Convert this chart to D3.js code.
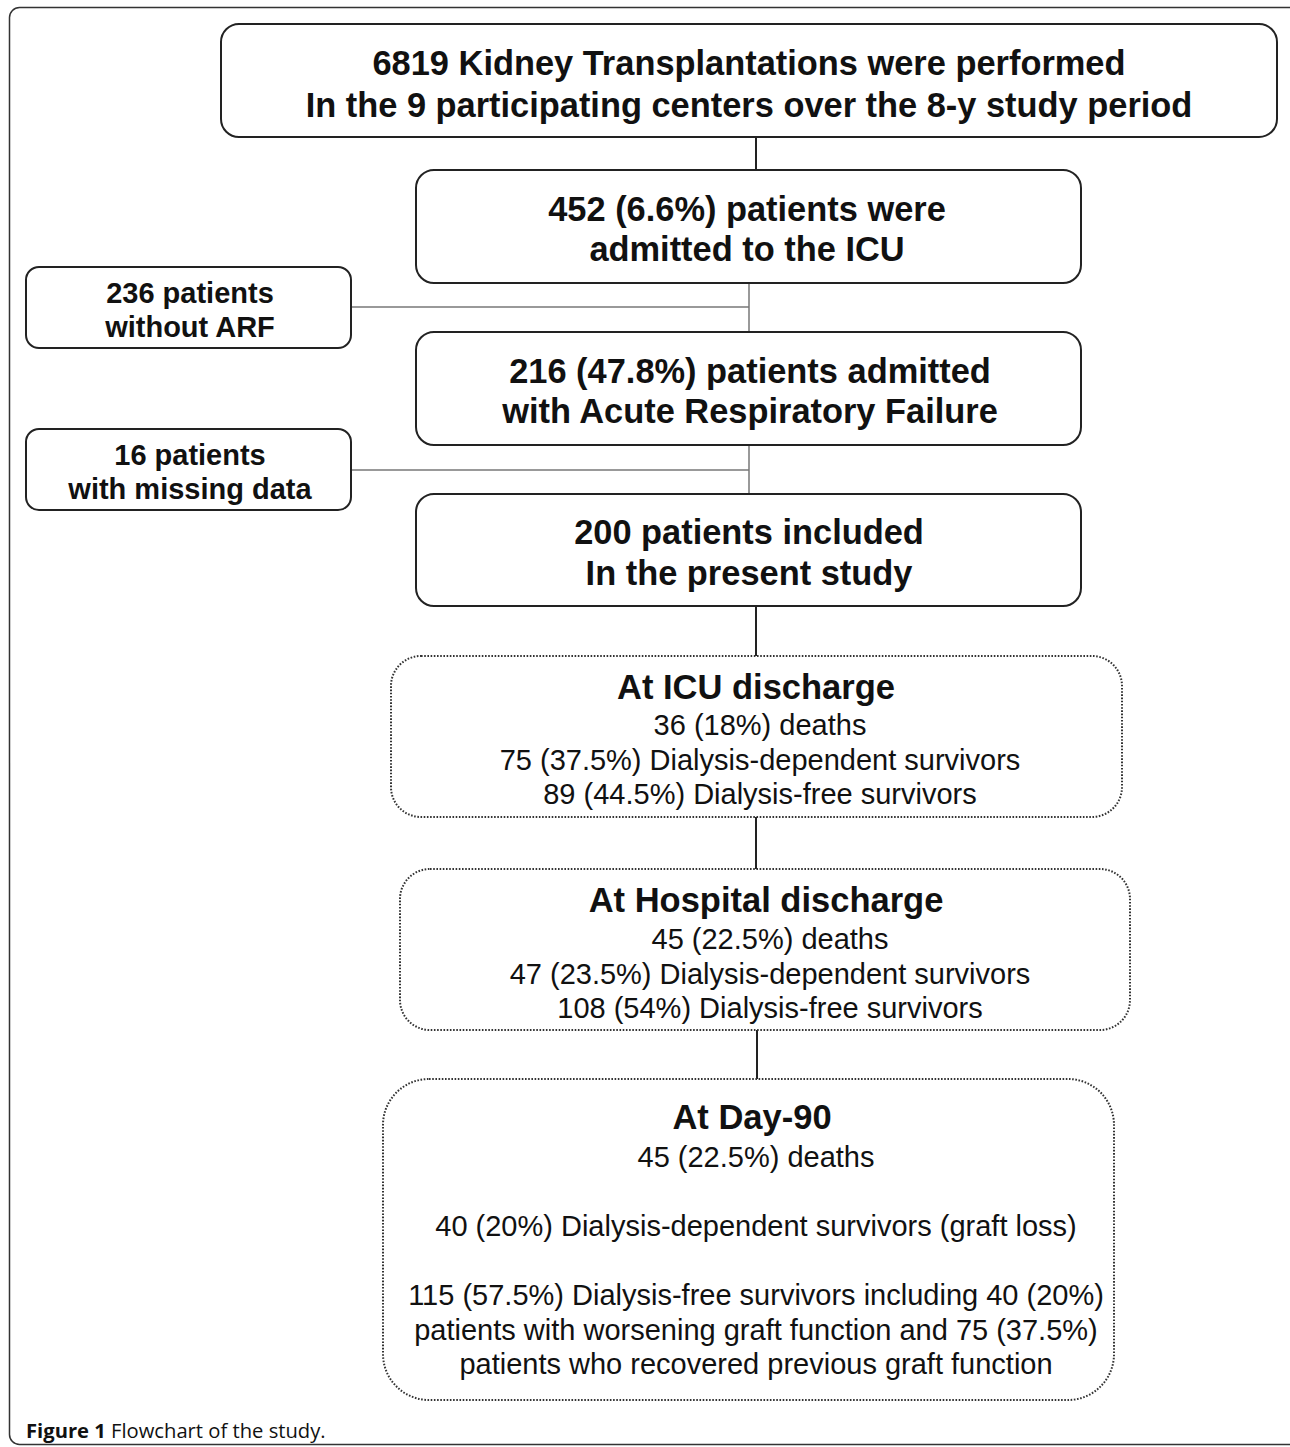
<!DOCTYPE html>
<html>
<head>
<meta charset="utf-8">
<script src="https://cdn.jsdelivr.net/npm/d3@7"></script>
<style>
  body { margin: 0; background: #fff; }
  svg { display: block; }
  .flow { font-family: "Liberation Sans", Arimo, Arial, sans-serif; }
  .cap { font-family: "Open Sans", Lato, sans-serif; }
</style>
</head>
<body>
<div id="chart"></div>
<script>
// Text of each box, top to bottom
const mainBoxes = [
    ["6819 Kidney Transplantations were performed", "In the 9 participating centers over the 8-y study period"],
    ["452 (6.6%) patients were", "admitted to the ICU"],
    ["216 (47.8%) patients admitted", "with Acute Respiratory Failure"],
    ["200 patients included", "In the present study"]
];
const excludedBoxes = [
    ["236 patients", "without ARF"],
    ["16 patients", "with missing data"]
];
const outcomeTitles = ["At ICU discharge", "At Hospital discharge", "At Day-90"];
const outcomeLines = [
    ["36 (18%) deaths", "75 (37.5%) Dialysis-dependent survivors", "89 (44.5%) Dialysis-free survivors"],
    ["45 (22.5%) deaths", "47 (23.5%) Dialysis-dependent survivors", "108 (54%) Dialysis-free survivors"],
    ["45 (22.5%) deaths", "", "40 (20%) Dialysis-dependent survivors (graft loss)", "",
     "115 (57.5%) Dialysis-free survivors including 40 (20%)",
     "patients with worsening graft function and 75 (37.5%)",
     "patients who recovered previous graft function"]
];
const caption = ["Figure 1", " Flowchart of the study."];

// Layout (pixels)
const W = 1290, H = 1447;
const mainLayout = [
    {x: 221, y: 24, w: 1056, h: 113, base: 75, step: 42, cx: 749},
    {x: 416, y: 170, w: 665, h: 113, base: 221, step: 40, cx: 747},
    {x: 416, y: 332, w: 665, h: 113, base: 383, step: 40, cx: 750},
    {x: 416, y: 494, w: 665, h: 112, base: 544, step: 41, cx: 749}
];
const exclLayout = [
    {x: 26, y: 267, w: 325, h: 81, base: 303, step: 34, cx: 190, lineY: 307},
    {x: 26, y: 429, w: 325, h: 81, base: 465, step: 34, cx: 190, lineY: 470}
];
const outLayout = [
    {x: 391, y: 656, w: 731, h: 161, r: 30, title: 699, base: 735, step: 34.5, cx: 760},
    {x: 400, y: 869, w: 730, h: 161, r: 30, title: 912, base: 949, step: 34.5, cx: 770},
    {x: 383, y: 1079, w: 731, h: 321, r: 46, title: 1129, base: 1167, step: 34.5, cx: 756}
];

const svg = d3.select("#chart")
    .append("svg")
    .attr("width", W)
    .attr("height", H);

// outer frame
svg.append("rect")
    .attr("x", 9.5).attr("y", 7.5)
    .attr("width", 1290).attr("height", 1437)
    .attr("rx", 10)
    .attr("fill", "none")
    .attr("stroke", "#333")
    .attr("stroke-width", 1.5);

// connectors
const darkLine = (x, y1, y2) => svg.append("line")
    .attr("x1", x).attr("x2", x).attr("y1", y1).attr("y2", y2)
    .attr("stroke", "#222").attr("stroke-width", 2);

darkLine(756, 137, 170);
darkLine(756, 606, 656);
darkLine(756, 817, 869);
darkLine(757, 1030, 1079);

const grey = svg.append("g").attr("stroke", "#777").attr("stroke-width", 1.5);
grey.append("line").attr("x1", 749).attr("x2", 749).attr("y1", 283).attr("y2", 332);
grey.append("line").attr("x1", 749).attr("x2", 749).attr("y1", 445).attr("y2", 494);
exclLayout.forEach(l => {
    grey.append("line").attr("x1", l.x + l.w).attr("x2", 749).attr("y1", l.lineY).attr("y2", l.lineY);
});

const flow = svg.append("g").attr("class", "flow");

// solid main boxes
mainBoxes.forEach((lines, i) => {
    const l = mainLayout[i];
    flow.append("rect")
        .attr("x", l.x).attr("y", l.y).attr("width", l.w).attr("height", l.h)
        .attr("rx", 18)
        .attr("fill", "#fff").attr("stroke", "#222").attr("stroke-width", 2);
    flow.selectAll(null)
        .data(lines)
        .enter()
        .append("text")
        .attr("x", l.cx)
        .attr("y", (d, j) => l.base + j * l.step)
        .attr("text-anchor", "middle")
        .attr("font-weight", "bold")
        .attr("font-size", 34.4)
        .attr("fill", "#111")
        .text(d => d);
});

// excluded boxes on the left
excludedBoxes.forEach((lines, i) => {
    const l = exclLayout[i];
    flow.append("rect")
        .attr("x", l.x).attr("y", l.y).attr("width", l.w).attr("height", l.h)
        .attr("rx", 13)
        .attr("fill", "#fff").attr("stroke", "#222").attr("stroke-width", 2);
    flow.selectAll(null)
        .data(lines)
        .enter()
        .append("text")
        .attr("x", l.cx)
        .attr("y", (d, j) => l.base + j * l.step)
        .attr("text-anchor", "middle")
        .attr("font-weight", "bold")
        .attr("font-size", 29)
        .attr("fill", "#111")
        .text(d => d);
});

// dotted outcome boxes
outcomeTitles.forEach((title, i) => {
    const l = outLayout[i];
    flow.append("rect")
        .attr("x", l.x).attr("y", l.y).attr("width", l.w).attr("height", l.h)
        .attr("rx", l.r)
        .attr("fill", "#fff").attr("stroke", "#333")
        .attr("stroke-width", 2)
        .attr("stroke-dasharray", "1.6,1.6");
    flow.append("text")
        .attr("x", l.cx - 4)
        .attr("y", l.title)
        .attr("text-anchor", "middle")
        .attr("font-weight", "bold")
        .attr("font-size", 34.5)
        .attr("fill", "#111")
        .text(title);
    flow.selectAll(null)
        .data(outcomeLines[i])
        .enter()
        .append("text")
        .attr("x", l.cx)
        .attr("y", (d, j) => l.base + j * l.step)
        .attr("text-anchor", "middle")
        .attr("font-size", 29)
        .attr("fill", "#111")
        .text(d => d);
});

// caption
const cap = svg.append("text")
    .attr("class", "cap")
    .attr("x", 26).attr("y", 1438)
    .attr("font-size", 20.2)
    .attr("fill", "#111");
cap.append("tspan").attr("font-weight", "bold").text(caption[0]);
cap.append("tspan").text(caption[1]);
</script>
</body>
</html>
